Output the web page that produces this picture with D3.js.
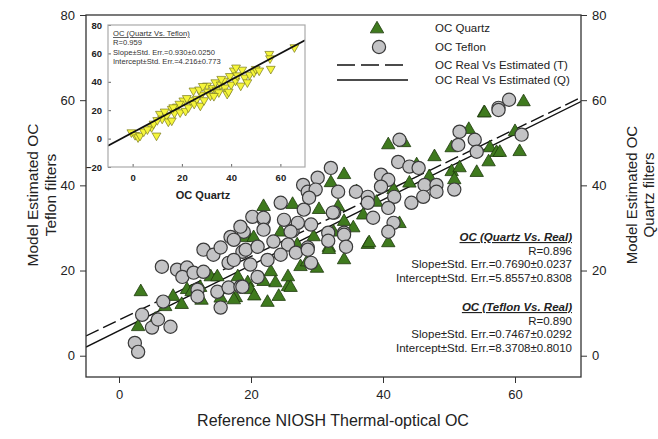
<!DOCTYPE html>
<html>
<head>
<meta charset="utf-8">
<script src="https://cdn.jsdelivr.net/npm/d3@7"></script>
<style>
  body { margin: 0; background: #fff; }
  svg { display: block; font-family: "Liberation Sans", Arial, sans-serif; }
</style>
</head>
<body>
<div id="chart"></div>
<script>
// --- data ---
const quartzX = [3.3, 2.9, 8.2, 10.3, 12.3, 13.9, 15.4, 14.9, 17.7, 18.0, 19.5,
  21.9, 26.3, 30.3, 33.2, 31.8, 34.1, 24.2, 25.6, 19.9, 17.4, 19.5,
  34.1, 32.1, 34.1, 31.8, 37.7, 18.9, 20.4, 29.5, 25.6, 23.7, 21.9, 26.0, 27.5, 23.0,
  40.8, 43.2, 47.8, 55.3, 53.0, 50.4, 56.2, 57.2, 56.0, 50.4, 51.6, 54.2, 50.8, 45.1, 41.6, 37.9, 40.8,
  61.3, 55.4, 57.7, 60.7, 60.0,
  37.0, 39.0, 44.0, 47.0, 36.0, 42.5,
  5.5, 7.0, 9.5, 11.0, 12.5, 16.0, 20.5, 22.5, 28.5, 30.0, 27.0, 24.5, 32.5, 35.5];
const quartzY = [15.0, 6.8, 13.9, 15.5, 16.0, 18.5, 13.5, 18.5, 13.6, 18.5, 17.1,
  35.0, 35.5, 34.3, 35.0, 25.4, 22.5, 13.9, 16.2, 15.5, 13.1, 28.0,
  42.5, 40.6, 31.5, 24.9, 26.1, 27.7, 27.7, 27.9, 18.5, 17.1, 17.4, 16.0, 20.9, 19.7,
  49.5, 50.0, 46.7, 57.0, 53.1, 48.8, 48.8, 47.7, 45.5, 43.2, 44.1, 43.0, 41.3, 44.8, 39.0, 26.5, 26.5,
  59.6, 57.0, 47.7, 47.9, 52.6,
  33.0, 36.0, 40.5, 42.0, 38.5, 31.0,
  8.5, 11.5, 12.0, 15.0, 13.0, 15.5, 14.0, 12.5, 22.0, 20.5, 26.0, 29.0, 29.0, 30.0];

const teflonX = [2.4, 2.9, 3.5, 5.0, 5.9, 7.8, 6.7, 6.5, 8.8, 10.3, 9.6, 11.9, 11.3, 12.8, 11.9,
  12.8, 14.3, 15.4, 14.9, 15.4, 16.6, 16.6, 18.4, 16.9, 18.7, 18.9,
  21.9, 26.3, 28.6, 32.6, 34.1,
  32.1, 30.1, 27.9, 28.6, 29.8, 33.2, 35.9, 37.7, 28.8, 24.5, 28.0, 32.4, 20.2, 21.9, 18.4,
  25.0, 27.1, 29.1, 21.9, 26.0, 31.7, 34.1, 17.4, 19.2, 21.0, 23.4, 25.6, 34.4, 31.7,
  17.4, 19.9, 22.5, 24.5, 26.8, 28.6, 29.1, 18.7, 21.0,
  42.5, 51.6, 51.4, 53.9, 54.2, 57.5, 42.3, 44.0, 45.4, 39.7, 40.8, 39.7, 46.3, 48.1, 48.1,
  50.8, 46.1, 44.3, 41.7, 37.7, 40.8, 38.5, 41.6, 40.8,
  57.5, 59.1, 61.0];
const teflonY = [3.0, 0.9, 9.6, 6.6, 8.5, 6.8, 12.7, 20.9, 20.2, 20.7, 18.5, 15.5, 19.5, 19.7, 13.9,
  24.9, 23.7, 25.4, 15.0, 11.3, 21.8, 16.0, 16.2, 27.9, 24.4, 29.1,
  32.0, 29.3, 25.4, 33.6, 28.9,
  44.1, 41.8, 40.1, 38.5, 39.0, 38.5, 38.5, 37.3, 37.1, 35.9, 34.3, 33.6, 32.6, 32.4, 30.3,
  31.9, 31.2, 30.8, 29.6, 29.1, 28.9, 28.4, 27.2, 24.9, 25.6, 26.8, 26.1, 25.6, 27.0,
  22.5, 21.4, 22.5, 23.7, 24.2, 24.9, 21.8, 16.2, 18.5,
  50.7, 52.6, 49.5, 50.7, 47.9, 58.2, 45.5, 44.4, 44.1, 42.5, 41.3, 39.7, 40.1, 40.1, 38.5,
  39.0, 37.3, 35.9, 37.3, 35.9, 34.7, 32.4, 31.2, 29.1,
  57.7, 60.1, 51.9];

// inset: OC Quartz (x) vs OC Teflon (y)
const insetX = [-0.5, 1.0, 2.2, 3.0, 4.5, 7.7, 9.7, 8.5, 11.1, 12.0, 13.8, 14.5, 15.9, 15.9, 17.0,
  18.0, 19.3, 20.6, 21.5, 22.7, 23.5, 24.7, 25.0, 26.1, 27.5, 28.0, 29.0, 30.2, 30.5, 31.6,
  32.5, 33.6, 34.0, 35.0, 35.8, 37.0, 37.5, 38.4, 39.5, 40.0, 41.1, 41.8, 42.5, 43.9, 44.5,
  45.5, 46.6, 47.5, 49.3, 50.0, 51.4, 55.5, 55.8, 56.1, 65.7, 10.0, 6.0, 19.0, 22.0, 27.0,
  33.0, 36.0, 39.0, 42.0, 28.5, 16.5, 13.0];
const insetY = [4.4, 2.5, 0.9, 2.0, 5.0, 8.0, 2.1, 10.5, 17.4, 14.0, 16.2, 12.0, 20.9, 12.7, 18.0,
  22.5, 18.5, 26.8, 19.5, 22.0, 27.0, 33.8, 24.5, 28.0, 23.2, 31.0, 27.0, 37.3, 33.0, 30.3,
  35.5, 39.6, 34.0, 32.6, 38.0, 40.8, 36.0, 31.5, 44.0, 38.0, 47.9, 40.8, 44.5, 37.3, 48.5,
  43.0, 39.6, 45.0, 46.7, 49.0, 47.9, 59.6, 56.5, 49.1, 64.3, 13.0, 6.5, 24.5, 28.5, 34.5,
  30.0, 42.0, 33.0, 50.0, 37.0, 22.0, 19.0];

// regression fits (slope, intercept) as printed on the chart
const fitQuartz = [0.7690, 5.8557];
const fitTeflon = [0.7467, 8.3708];
const fitInset = [0.930, 4.216];

const xTicks = [0, 20, 40, 60];
const yTicks = [0, 20, 40, 60, 80];
const insetXTicks = [0, 20, 40, 60];
const insetYTicks = [-20, 0, 20, 40, 60, 80];

const statsQuartz = ["OC (Quartz Vs. Real)", "R=0.896",
  "Slope±Std. Err.=0.7690±0.0237", "Intercept±Std. Err.=5.8557±0.8308"];
const statsTeflon = ["OC (Teflon Vs. Real)", "R=0.890",
  "Slope±Std. Err.=0.7467±0.0292", "Intercept±Std. Err.=8.3708±0.8010"];
const statsInset = ["OC (Quartz Vs. Teflon)", "R=0.959",
  "Slope±Std. Err.=0.930±0.0250", "Intercept±Std. Err.=4.216±0.773"];

const width = 658, height = 439;
const green = "#3f7a1e", greenStroke = "#1e3a0c";
const grey = "#c3c3c5", greyStroke = "#3a3a3a";

const svg = d3.select("#chart").append("svg")
  .attr("width", width).attr("height", height);

// --- main plot ---
const x = d3.scaleLinear().domain([-5, 70]).range([86, 581]);
const y = d3.scaleLinear().domain([-5, 80]).range([377, 15]);

const styleAxis = g => {
  g.select(".domain").remove();
  g.selectAll(".tick line").attr("stroke", "#333");
  g.selectAll(".tick text").attr("fill", "#222").style("font-size", "13px");
};

svg.append("g").attr("transform", "translate(86,0)")
  .call(d3.axisLeft(y).tickValues(yTicks).tickSize(6).tickPadding(5)).call(styleAxis);
svg.append("g").attr("transform", "translate(581,0)")
  .call(d3.axisRight(y).tickValues(yTicks).tickSize(6).tickPadding(5)).call(styleAxis);
svg.append("g").attr("transform", "translate(0,377)")
  .call(d3.axisBottom(x).tickValues(xTicks).tickSize(6).tickPadding(7)).call(styleAxis);

const plot = svg.append("g");
plot.append("clipPath").attr("id", "clipMain")
  .append("rect").attr("x", 86).attr("y", 15).attr("width", 495).attr("height", 362);

// regression lines
const lineGen = (fit, sx, sy) => {
  const dom = sx.domain();
  return d3.line()(dom.map(v => [sx(v), sy(fit[0] * v + fit[1])]));
};
plot.append("path").attr("d", lineGen(fitTeflon, x, y))
  .attr("clip-path", "url(#clipMain)")
  .attr("fill", "none").attr("stroke", "#111").attr("stroke-width", 1.4)
  .attr("stroke-dasharray", "14,5");
plot.append("path").attr("d", lineGen(fitQuartz, x, y))
  .attr("clip-path", "url(#clipMain)")
  .attr("fill", "none").attr("stroke", "#111").attr("stroke-width", 1.4);

const tri = d3.symbol().type(d3.symbolTriangle).size(78);
plot.append("g").selectAll("path")
  .data(d3.range(quartzX.length))
  .join("path")
  .attr("d", tri)
  .attr("transform", i => `translate(${x(quartzX[i])},${y(quartzY[i])})`)
  .attr("fill", green).attr("stroke", greenStroke).attr("stroke-width", 0.8);

plot.append("g").selectAll("circle")
  .data(d3.range(teflonX.length))
  .join("circle")
  .attr("cx", i => x(teflonX[i]))
  .attr("cy", i => y(teflonY[i]))
  .attr("r", 6.6)
  .attr("fill", grey).attr("stroke", greyStroke).attr("stroke-width", 1.2);

// frame
svg.append("rect").attr("x", 86).attr("y", 15).attr("width", 495).attr("height", 362)
  .attr("fill", "none").attr("stroke", "#333").attr("stroke-width", 1.3);

// stats blocks
const statBlock = (lines, y0) => {
  const g = svg.append("g").attr("text-anchor", "end").style("font-size", "11.5px").attr("fill", "#222");
  lines.forEach((t, i) => {
    const txt = g.append("text").attr("x", 572).attr("y", y0 + i * 13.5).text(t);
    if (i === 0) txt.style("font-weight", "bold").style("font-style", "italic")
      .style("text-decoration", "underline");
  });
};
statBlock(statsQuartz, 241);
statBlock(statsTeflon, 311);

// legend
const legend = svg.append("g").style("font-size", "11.5px").attr("fill", "#222");
legend.append("path").attr("d", tri).attr("transform", "translate(377,29)")
  .attr("fill", green).attr("stroke", greenStroke).attr("stroke-width", 0.8);
legend.append("circle").attr("cx", 379).attr("cy", 47).attr("r", 6.6)
  .attr("fill", grey).attr("stroke", greyStroke).attr("stroke-width", 1.2);
legend.append("line").attr("x1", 337).attr("x2", 408).attr("y1", 65).attr("y2", 65)
  .attr("stroke", "#111").attr("stroke-width", 1.6).attr("stroke-dasharray", "18,6");
legend.append("line").attr("x1", 337).attr("x2", 408).attr("y1", 80).attr("y2", 80)
  .attr("stroke", "#111").attr("stroke-width", 1.6);
["OC Quartz", "OC Teflon", "OC Real Vs Estimated (T)", "OC Real Vs Estimated (Q)"]
  .forEach((t, i) => legend.append("text").attr("x", 435).attr("y", [32, 51, 69, 84][i]).text(t));

// axis titles
const title = (lines, cx, cy, rot, size, gap) => {
  const g = svg.append("g").attr("transform", `translate(${cx},${cy}) rotate(${rot})`)
    .attr("text-anchor", "middle").style("font-size", size).attr("fill", "#222");
  lines.forEach((t, i) => g.append("text").attr("y", i * gap).text(t));
};
title(["Model Estimated OC", "Teflon filters"], 38, 195, -90, "15.5px", 18);
title(["Model Estimated OC", "Quartz filters"], 637, 195, -90, "15px", 16.5);
title(["Reference NIOSH Thermal-optical OC"], 333, 426, 0, "16px", 0);

// --- inset ---
const ix = d3.scaleLinear().domain([-10, 70]).range([108, 305]);
const iy = d3.scaleLinear().domain([-20, 80]).range([167, 25]);
const inset = svg.append("g");
inset.append("rect").attr("x", 108).attr("y", 25).attr("width", 197).attr("height", 142)
  .attr("fill", "#fff");
inset.append("clipPath").attr("id", "clipInset")
  .append("rect").attr("x", 108).attr("y", 25).attr("width", 197).attr("height", 142);

const styleInsetAxis = g => {
  g.select(".domain").remove();
  g.selectAll(".tick line").attr("stroke", "#666");
  g.selectAll(".tick text").attr("fill", "#222").style("font-size", "9.5px").style("font-weight", "bold");
};
inset.append("g").attr("transform", "translate(108,0)")
  .call(d3.axisLeft(iy).tickValues(insetYTicks).tickSizeInner(-3).tickSizeOuter(0).tickPadding(6))
  .call(styleInsetAxis);
inset.append("g").attr("transform", "translate(0,167)")
  .call(d3.axisBottom(ix).tickValues(insetXTicks).tickSizeInner(-3).tickSizeOuter(0).tickPadding(7))
  .call(styleInsetAxis);

const downTri = d3.symbol().type(d3.symbolTriangle).size(34);
inset.append("g").attr("clip-path", "url(#clipInset)").selectAll("path")
  .data(d3.range(insetX.length))
  .join("path")
  .attr("d", downTri)
  .attr("transform", i => `translate(${ix(insetX[i])},${iy(insetY[i])}) rotate(180)`)
  .attr("fill", "#f5f53a").attr("stroke", "#7a7a20").attr("stroke-width", 0.7);

inset.append("path").attr("d", lineGen(fitInset, ix, iy))
  .attr("clip-path", "url(#clipInset)")
  .attr("fill", "none").attr("stroke", "#111").attr("stroke-width", 1.8);

inset.append("rect").attr("x", 108).attr("y", 25).attr("width", 197).attr("height", 142)
  .attr("fill", "none").attr("stroke", "#aaa").attr("stroke-width", 1.2);

const itext = inset.append("g").style("font-size", "7.6px").attr("fill", "#333");
statsInset.forEach((t, i) => {
  const tt = itext.append("text").attr("x", 113).attr("y", 36 + i * 9.3).text(t);
  if (i === 0) tt.style("text-decoration", "underline");
});
inset.append("text").attr("x", 203).attr("y", 199).attr("text-anchor", "middle")
  .style("font-size", "11px").style("font-weight", "bold").attr("fill", "#222").text("OC Quartz");
</script>
</body>
</html>
